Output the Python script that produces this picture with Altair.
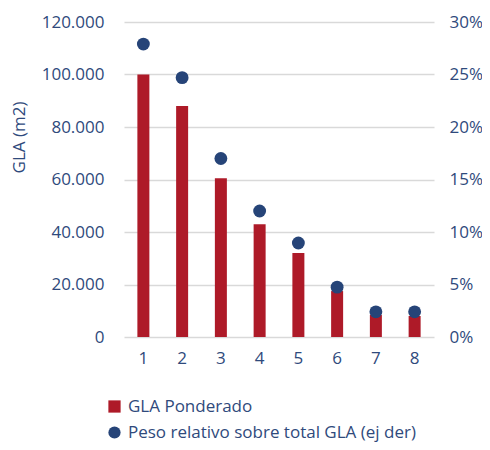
import altair as alt
import pandas as pd

categorias = ["1", "2", "3", "4", "5", "6", "7", "8"]
gla_ponderado = [100000, 88000, 60500, 43000, 32000, 17500, 8400, 8000]
peso_relativo = [0.279, 0.247, 0.170, 0.120, 0.0895, 0.0475, 0.024, 0.024]

serie_bar = "GLA Ponderado"
serie_pt = "Peso relativo sobre total GLA (ej der)"

df_bar = pd.DataFrame({"cat": categorias, "valor": gla_ponderado, "serie": serie_bar})
df_pt = pd.DataFrame({"cat": categorias, "valor": peso_relativo, "serie": serie_pt})

TXT = "#2F4A7C"
RED = "#AE1A28"
BLUE = "#264478"
FONT = "Open Sans"
FS = 17

xenc = alt.X("cat:N", sort=categorias, title=None,
             scale=alt.Scale(paddingInner=0, paddingOuter=0),
             axis=alt.Axis(labelAngle=0, ticks=False, domain=False, labelPadding=13,
                           labelFontSize=FS, labelColor=TXT, labelFont=FONT))

color_scale = alt.Scale(domain=[serie_bar, serie_pt], range=[RED, BLUE])
shape_scale = alt.Scale(domain=[serie_bar, serie_pt], range=["square", "circle"])
legend = alt.Legend(title=None, orient="none", legendX=-18, legendY=376, direction="vertical",
                    labelFontSize=FS, labelColor=TXT, labelFont=FONT, symbolSize=150,
                    symbolStrokeWidth=0, rowPadding=8, labelOffset=5, labelLimit=400)

bars = alt.Chart(df_bar).mark_bar(size=12).encode(
    x=xenc,
    y=alt.Y("valor:Q", title="GLA (m2)",
            scale=alt.Scale(domain=[0, 120000]),
            axis=alt.Axis(values=[0, 20000, 40000, 60000, 80000, 100000, 120000],
                          labelExpr="replace(format(datum.value, ','), /,/g, '.')",
                          ticks=False, domain=False, grid=True, gridColor="#D9D9D9",
                          gridWidth=1.5, labelPadding=20, labelFontSize=FS,
                          labelColor=TXT, labelFont=FONT, titleFont=FONT,
                          titleFontSize=FS, titleColor=TXT, titleFontWeight="normal",
                          titlePadding=13, titleY=115)),
    color=alt.Color("serie:N", scale=color_scale, legend=legend),
)

points = alt.Chart(df_pt).mark_point(filled=True, size=165, opacity=1).encode(
    x=xenc,
    y=alt.Y("valor:Q", title=None,
            scale=alt.Scale(domain=[0, 0.3]),
            axis=alt.Axis(orient="right", values=[0, 0.05, 0.1, 0.15, 0.2, 0.25, 0.3],
                          format=".0%", ticks=False, domain=False, grid=False,
                          labelPadding=15, labelFontSize=FS, labelColor=TXT,
                          labelFont=FONT)),
    color=alt.Color("serie:N", scale=color_scale, legend=legend),
    shape=alt.Shape("serie:N", scale=shape_scale, legend=legend),
)

chart = alt.layer(bars, points).resolve_scale(y="independent").properties(
    width=310, height=315,
    autosize=alt.AutoSizeParams(type="none"),
    padding={"left": 116, "top": 14, "right": 48, "bottom": 105},
).configure_view(stroke=None)

chart.save("out.html", embed_options={"renderer": "svg", "actions": False})
